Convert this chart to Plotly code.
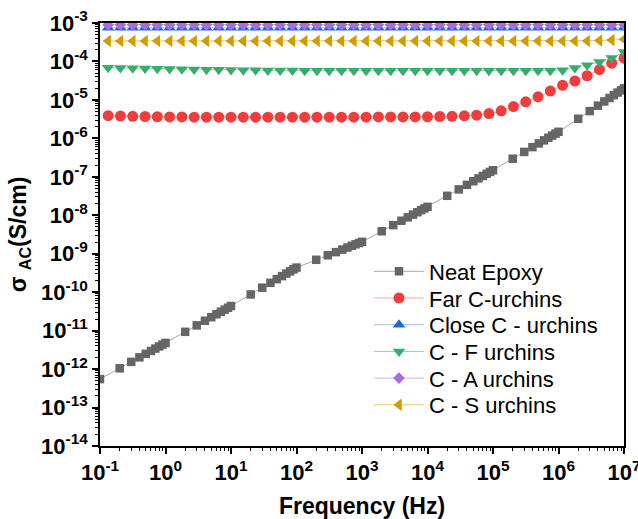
import plotly.graph_objects as go

# ---------------- data ----------------
freq_neat = [0.1, 0.2, 0.3, 0.4, 0.5, 0.6, 0.7, 0.8, 0.9,
             1, 2, 3, 4, 5, 6, 7, 8, 9,
             10, 20, 30, 40, 50, 60, 70, 80, 90,
             100, 200, 300, 400, 500, 600, 700, 800, 900,
             1e3, 2e3, 3e3, 4e3, 5e3, 6e3, 7e3, 8e3, 9e3,
             1e4, 2e4, 3e4, 4e4, 5e4, 6e4, 7e4, 8e4, 9e4,
             1e5, 2e5, 3e5, 4e5, 5e5, 6e5, 7e5, 8e5, 9e5,
             1e6, 2e6, 3e6, 4e6, 5e6, 6e6, 7e6, 8e6, 9e6,
             1e7]
neat_epoxy = [5.50e-13, 1.05e-12, 1.54e-12, 2.02e-12, 2.49e-12, 2.96e-12, 3.42e-12, 3.88e-12, 4.34e-12,
              4.79e-12, 9.31e-12, 1.37e-11, 1.81e-11, 2.24e-11, 2.67e-11, 3.10e-11, 3.52e-11, 3.94e-11,
              4.37e-11, 8.73e-11, 1.31e-10, 1.75e-10, 2.18e-10, 2.62e-10, 3.05e-10, 3.49e-10, 3.93e-10,
              4.37e-10, 6.95e-10, 9.12e-10, 1.10e-9, 1.28e-9, 1.45e-9, 1.61e-9, 1.76e-9, 1.90e-9,
              2.04e-9, 3.84e-9, 5.55e-9, 7.21e-9, 8.83e-9, 1.04e-8, 1.20e-8, 1.36e-8, 1.51e-8,
              1.66e-8, 3.21e-8, 4.71e-8, 6.19e-8, 7.66e-8, 9.10e-8, 1.05e-7, 1.20e-7, 1.34e-7,
              1.48e-7, 2.96e-7, 4.44e-7, 5.92e-7, 7.40e-7, 8.87e-7, 1.04e-6, 1.18e-6, 1.33e-6,
              1.48e-6, 3.24e-6, 5.12e-6, 7.08e-6, 9.12e-6, 1.12e-5, 1.33e-5, 1.55e-5, 1.77e-5,
              2.0e-5]

freq = [0.133, 0.205, 0.316, 0.487, 0.750, 1.155, 1.778, 2.738, 4.217, 6.494,
        10.0, 15.40, 23.71, 36.52, 56.23, 86.60, 133.4, 205.4, 316.2, 487.0,
        749.9, 1155, 1778, 2738, 4217, 6494, 1.0e4, 1.540e4, 2.371e4, 3.652e4,
        5.623e4, 8.660e4, 1.334e5, 2.054e5, 3.162e5, 4.870e5, 7.499e5, 1.155e6,
        1.778e6, 2.738e6, 4.217e6, 6.494e6, 1.0e7]
far_c = [3.9e-6, 3.8e-6, 3.75e-6, 3.7e-6, 3.65e-6, 3.6e-6, 3.6e-6, 3.55e-6, 3.55e-6, 3.55e-6,
         3.55e-6, 3.55e-6, 3.55e-6, 3.55e-6, 3.55e-6, 3.55e-6, 3.55e-6, 3.55e-6, 3.55e-6, 3.55e-6,
         3.55e-6, 3.55e-6, 3.6e-6, 3.6e-6, 3.6e-6, 3.6e-6, 3.65e-6, 3.7e-6, 3.75e-6, 3.85e-6,
         4.0e-6, 4.4e-6, 5.2e-6, 6.7e-6, 8.9e-6, 1.2e-5, 1.7e-5, 2.4e-5, 3.1e-5, 4.25e-5,
         6.1e-5, 9.0e-5, 1.22e-4]
close_c = [7.5e-4] * 43
c_f = [6.9e-5, 6.8e-5, 6.7e-5, 6.6e-5, 6.5e-5, 6.4e-5, 6.3e-5, 6.2e-5, 6.1e-5, 6.05e-5,
       6.0e-5, 5.95e-5, 5.9e-5, 5.85e-5, 5.8e-5, 5.8e-5, 5.75e-5, 5.75e-5, 5.7e-5, 5.7e-5,
       5.7e-5, 5.7e-5, 5.7e-5, 5.7e-5, 5.7e-5, 5.7e-5, 5.7e-5, 5.7e-5, 5.7e-5, 5.7e-5,
       5.7e-5, 5.7e-5, 5.7e-5, 5.7e-5, 5.7e-5, 5.7e-5, 5.75e-5, 5.9e-5, 6.8e-5, 8.0e-5,
       9.7e-5, 1.23e-4, 1.77e-4]
c_a = [9.0e-4] * 43
c_s = [3.4e-4] * 40 + [3.5e-4, 3.6e-4, 3.8e-4]

x_tickvals = [1e-1, 1e0, 1e1, 1e2, 1e3, 1e4, 1e5, 1e6, 1e7]
x_ticktext = ["10<sup>-1</sup>", "10<sup>0</sup>", "10<sup>1</sup>", "10<sup>2</sup>", "10<sup>3</sup>",
              "10<sup>4</sup>", "10<sup>5</sup>", "10<sup>6</sup>", "10<sup>7</sup>"]
y_exps = [-14, -13, -12, -11, -10, -9, -8, -7, -6, -5, -4, -3]
y_tickvals = [10.0 ** e for e in y_exps]
y_ticktext = ["10<sup>%d</sup>" % e for e in y_exps]

# ---------------- figure ----------------
FONT = "Liberation Sans, Arial, sans-serif"
W, H = 638, 519
fig = go.Figure()

series = [
    ("Neat Epoxy", freq_neat, neat_epoxy, "square", 8.5, "#656565", "#a8a8a8", "legend"),
    ("Far C-urchins", freq, far_c, "circle", 11, "#ef3d3d", "#f6a3a3", "legend2"),
    ("Close C - urchins", freq, close_c, "triangle-up", 11, "#1f68d6", "#9dbcee", "legend3"),
    ("C - F urchins", freq, c_f, "triangle-down", 11, "#36ad68", "#93d2ad", "legend4"),
    ("C - A urchins", freq, c_a, "diamond", 9, "#a86fdc", "#d0b2ef", "legend5"),
    ("C - S urchins", freq, c_s, "triangle-left", 11, "#d19c00", "#e6c766", "legend6"),
]
for name, xs, ys, sym, sz, mc, lc, lg in series:
    fig.add_trace(go.Scatter(
        x=xs, y=ys, name=name, mode="lines+markers",
        line=dict(color=lc, width=1),
        marker=dict(symbol=sym, size=sz, color=mc, line=dict(width=0)),
        legend=lg,
    ))

axis_common = dict(
    type="log", showgrid=False, zeroline=False, automargin=False,
    showline=True, linecolor="black", linewidth=1.5, mirror=True,
    ticks="outside", ticklen=6, tickwidth=1.5, tickcolor="black",
    tickfont=dict(family=FONT, size=22, color="black", weight="bold"),
    tickmode="array", ticklabeloverflow="allow",
)
minor_x = [k * 10.0 ** n for n in range(-1, 7) for k in range(2, 10)]
minor_y = [k * 10.0 ** n for n in range(-14, -3) for k in range(2, 10)]

fig.update_xaxes(
    **axis_common, range=[-1, 7], tickvals=x_tickvals, ticktext=x_ticktext,
    minor=dict(tickmode="array", tickvals=minor_x, ticks="outside", ticklen=3.5,
               tickwidth=1.2, tickcolor="black", showgrid=False),
    title=dict(text="Frequency (Hz)", font=dict(family=FONT, size=23, color="black", weight="bold"),
               standoff=14),
)
fig.update_yaxes(
    **axis_common, range=[-14, -3], tickvals=y_tickvals, ticktext=y_ticktext,
    minor=dict(tickmode="array", tickvals=minor_y, ticks="outside", ticklen=3.5,
               tickwidth=1.2, tickcolor="black", showgrid=False),
    title=dict(text="σ <sub>AC</sub>(S/cm)", font=dict(family=FONT, size=23, color="black", weight="bold"),
               standoff=8),
)

leg_font = dict(family=FONT, size=22, color="black")
row_y = [271.5, 298.2, 324.9, 351.6, 378.3, 405.0]  # pixel rows
layout_legends = {}
for i, key in enumerate(["legend", "legend2", "legend3", "legend4", "legend5", "legend6"]):
    layout_legends[key] = dict(
        xref="container", yref="container",
        x=369 / W, xanchor="left", y=1 - row_y[i] / H, yanchor="middle",
        font=leg_font, bgcolor="rgba(0,0,0,0)", borderwidth=0, itemwidth=50,
    )

fig.update_layout(
    width=W, height=H,
    margin=dict(l=100, r=14, t=23, b=73, autoexpand=False),
    paper_bgcolor="white", plot_bgcolor="white",
    font=dict(family=FONT, color="black"),
    showlegend=True,
    **layout_legends,
)

fig.write_html("out.html", config={"displayModeBar": False},
               post_script="document.body.style.margin='0px';document.body.style.padding='0px';"
                           "document.body.style.overflow='hidden';")
